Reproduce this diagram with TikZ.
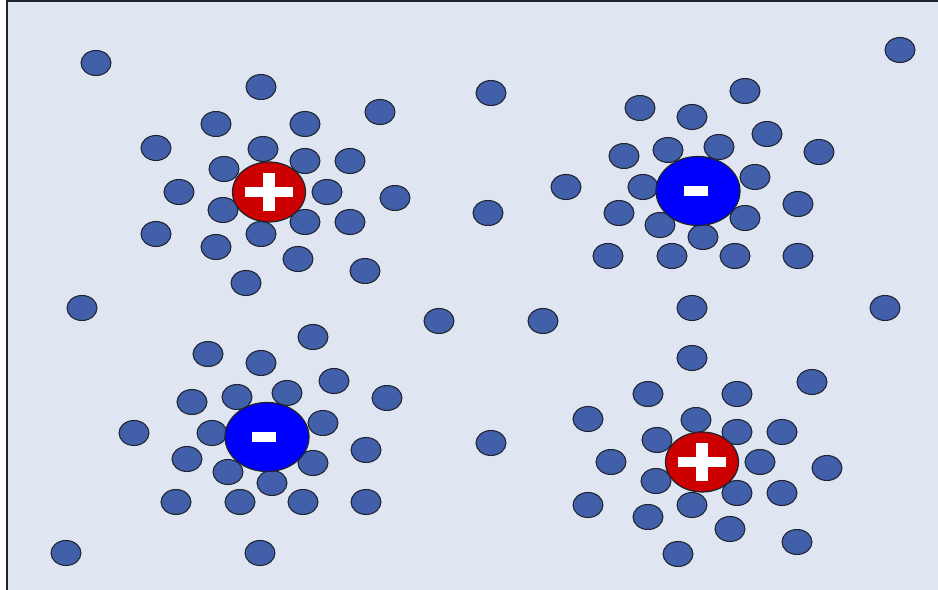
\documentclass[tikz,border=0pt]{standalone}
\usepackage{tikz}
\usetikzlibrary{shapes.geometric}
\definecolor{bgblue}{RGB}{224,229,242}
\definecolor{partblue}{RGB}{66,96,170}
\definecolor{ionred}{RGB}{204,0,0}
\definecolor{ionblue}{RGB}{0,0,255}
\definecolor{edgegray}{RGB}{30,35,45}

\begin{document}
\begin{tikzpicture}[x=0.02cm, y=-0.02cm,
    particle/.style={ellipse, draw=edgegray, line width=0.6pt, fill=partblue,
        minimum width=0.6cm, minimum height=0.5cm, inner sep=0pt},
    cation/.style={ellipse, draw=edgegray, line width=0.7pt, fill=ionred,
        minimum width=1.46cm, minimum height=1.2cm, inner sep=0pt},
    anion/.style={ellipse, draw=edgegray, line width=0.7pt, fill=ionblue,
        minimum width=1.68cm, minimum height=1.38cm, inner sep=0pt}]

    % Background and frame
    \useasboundingbox (0,0) rectangle (938,590);
    \fill[bgblue] (7,1) rectangle (938,590);
    \draw[edgegray, line width=0.9pt] (7,590) -- (7,1) -- (938,1);

    % Free particles
    \foreach \x/\y [count=\i] in {96/63, 900/50, 491/93, 488/213, 82/308, 439/321,
        543/321, 692/308, 885/308, 491/443, 66/553, 260/553}
        \node[particle] (free\i) at (\x,\y) {};

    % Cloud round the upper cation
    \foreach \x/\y [count=\i] in {261/87, 216/124, 305/124, 380/112, 156/148,
        263/149, 224/169, 305/161, 350/161, 179/192, 327/192, 395/198, 223/210,
        305/222, 350/222, 156/234, 261/234, 216/247, 298/259, 365/271, 246/283}
        \node[particle] (pa\i) at (\x,\y) {};

    % Cloud round the upper anion
    \foreach \x/\y [count=\i] in {745/91, 640/108, 692/117, 767/134, 819/152,
        624/156, 668/150, 719/147, 566/187, 643/187, 755/177, 619/213, 798/204,
        660/225, 745/218, 703/237, 608/256, 672/256, 735/256, 798/256}
        \node[particle] (pb\i) at (\x,\y) {};

    % Cloud round the lower anion
    \foreach \x/\y [count=\i] in {313/337, 208/354, 261/363, 334/381, 387/398,
        192/402, 237/397, 287/393, 134/433, 212/433, 323/423, 187/459, 366/450,
        228/472, 313/463, 272/483, 176/502, 240/502, 303/502, 366/502}
        \node[particle] (pc\i) at (\x,\y) {};

    % Cloud round the lower cation
    \foreach \x/\y [count=\i] in {692/358, 812/382, 648/394, 737/394, 588/419,
        696/420, 657/440, 737/432, 782/432, 611/462, 760/462, 827/468, 656/481,
        737/493, 782/493, 588/505, 692/505, 648/517, 730/529, 797/542, 678/554}
        \node[particle] (pd\i) at (\x,\y) {};

    % Ions
    \node[cation] (cat1) at (269,192) {};
    \node[anion] (an1) at (698,191) {};
    \node[anion] (an2) at (267,437) {};
    \node[cation] (cat2) at (702,462) {};

    % Signs
    \foreach \ion in {cat1, cat2} {
        \fill[white] (\ion.center) ++(-24,-5) rectangle ++(48,10);
        \fill[white] (\ion.center) ++(-6,-19) rectangle ++(12,38);
    }
    \fill[white] (an1.center) ++(-14,-5) rectangle ++(24,10);
    \fill[white] (an2.center) ++(-15,-5) rectangle ++(24,10);
\end{tikzpicture}
\end{document}
